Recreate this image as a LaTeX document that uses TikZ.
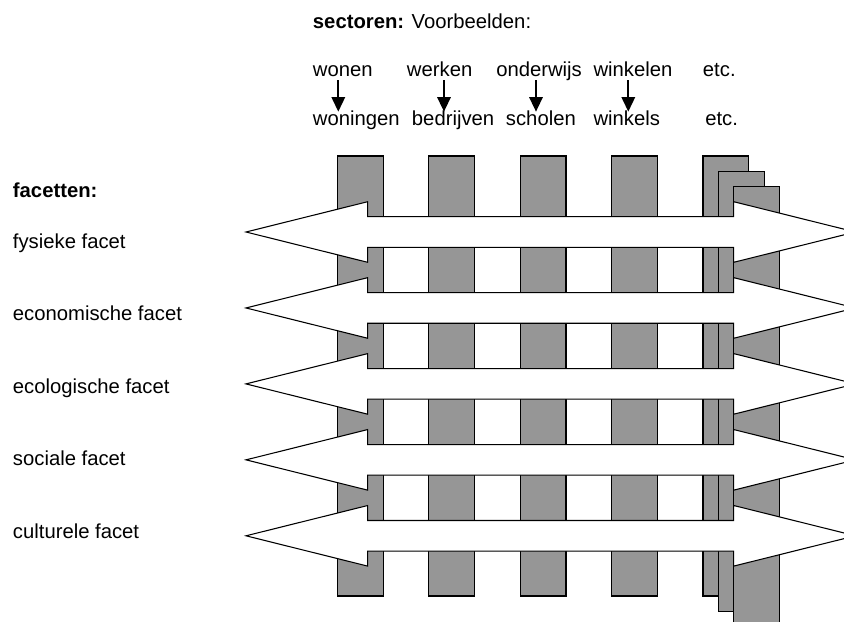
\documentclass[tikz,border=0pt]{standalone}
\usepackage{fontspec}
\setmainfont{Liberation Sans}
\usetikzlibrary{arrows.meta}
\definecolor{colgrey}{RGB}{150,150,150}
\begin{document}
\begin{tikzpicture}[x=0.75pt,y=-0.75pt,
  label/.style={inner sep=0pt, anchor=base west, font=\fontsize{15.2}{18}\selectfont},
  column/.style={draw=black, fill=colgrey, line width=0.8pt},
  facetarrow/.style={draw=black, fill=white, line width=0.8pt, line join=miter},
  pointer/.style={line width=1.7pt, -{Triangle[length=11pt,width=10pt]}}]
\useasboundingbox (0,0) rectangle (844,622);
\clip (0,0) rectangle (844,622);

% sector columns
\foreach \i in {0,...,3} {
  \draw[column] (337.4+91.4*\i,156) rectangle ++(45.8,440);
}
% stacked "etc." column
\foreach \k in {0,1,2} {
  \draw[column] (703+15.3*\k,156+15.3*\k) rectangle ++(45.8,440);
}

% facet double arrows across the columns
\foreach \c in {232,307.95,383.9,459.85,535.8} {
  \draw[facetarrow] (246,\c) -- (367.7,\c-30.3) -- (367.7,\c-15.3)
    -- (733.7,\c-15.3) -- (733.7,\c-30.3) -- (855.4,\c)
    -- (733.7,\c+30.3) -- (733.7,\c+15.3) -- (367.7,\c+15.3)
    -- (367.7,\c+30.3) -- cycle;
}

% header
\node[label] (sect) at (312.7,28.5) {\textbf{sectoren:} Voorbeelden:};

% sectors and their examples
\node[label] (s1) at (312.7,76.7) {wonen};
\node[label] (s2) at (406.7,76.7) {werken};
\node[label] (s3) at (496,76.7) {onderwijs};
\node[label] (s4) at (593.3,76.7) {winkelen};
\node[label] (s5) at (702.7,76.7) {etc.};
\node[label] (e1) at (312.7,125) {woningen};
\node[label] (e2) at (411.7,125) {bedrijven};
\node[label] (e3) at (505.7,125) {scholen};
\node[label] (e4) at (593.3,125) {winkels};
\node[label] (e5) at (705,125) {etc.};

\foreach \n/\x in {1/338.3,2/444,3/536,4/628.3} {
  \coordinate (p\n s) at (\x,80);
  \coordinate (p\n e) at (\x,111.7);
  \draw[pointer] (p\n s) -- (p\n e);
}

% facets
\node[label] (fac) at (12.7,197) {\textbf{facetten:}};
\node[label] (f1) at (12.7,248) {fysieke facet};
\node[label] (f2) at (12.7,320.5) {economische facet};
\node[label] (f3) at (12.7,393) {ecologische facet};
\node[label] (f4) at (12.7,465.5) {sociale facet};
\node[label] (f5) at (12.7,538) {culturele facet};
\end{tikzpicture}
\end{document}
